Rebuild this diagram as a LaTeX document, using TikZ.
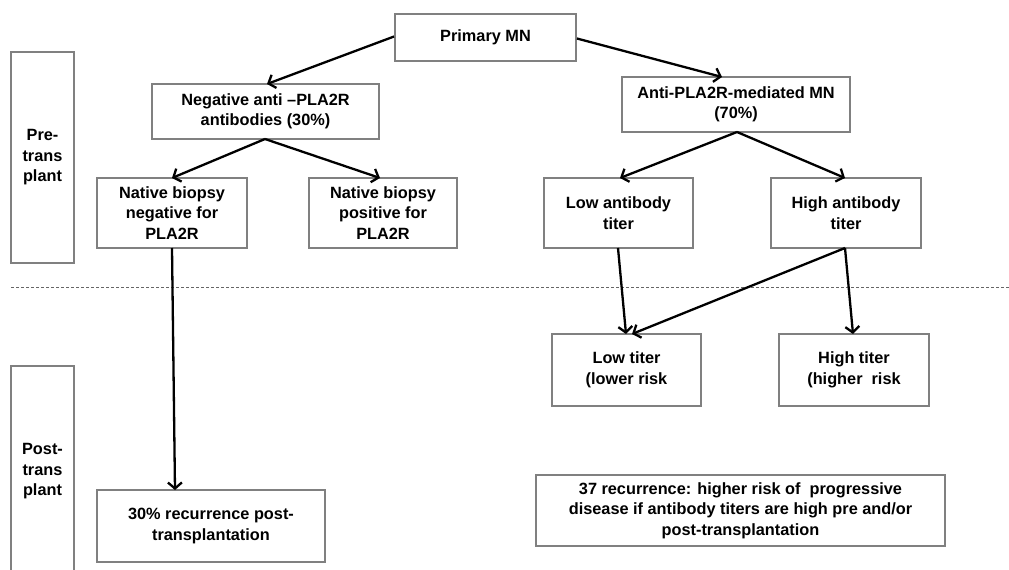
\documentclass[tikz,border=0pt]{standalone}
\usepackage{fontspec}
\setmainfont{Liberation Sans}
\usetikzlibrary{arrows.meta}
\begin{document}
\begin{tikzpicture}[x=1pt,y=-1pt,
  box/.style={draw=black!50, line width=1.9pt, fill=white, align=center, inner sep=0pt,
    font=\fontsize{16.3}{20.5}\selectfont\bfseries},
  arr/.style={line width=2.3pt, -{Straight Barb[length=6pt,width=14pt]}},
  sep/.style={draw=black!60, line width=1pt, dash pattern=on 3pt off 2pt}]
\useasboundingbox (0,0) rectangle (1009,570);
\newcommand{\bx}[6]{\node[box, minimum width=#4-#2, minimum height=#5-#3] (#1) at ({(#2+#4)/2},{(#3+#5)/2}) {#6};}
\draw[sep] (11,287) -- (1009,287);
\bx{pre}{11}{52}{74}{263}{Pre-\\trans\\plant}
\bx{post}{11}{366}{74}{577}{Post-\\trans\\plant}
\bx{pmn}{395}{14}{576}{61}{Primary MN}
\bx{neg}{152}{84}{379}{139}{Negative anti --PLA2R\\antibodies (30\%)}
\bx{anti}{622}{77}{850}{132}{Anti-PLA2R-mediated MN\\(70\%)}
\bx{nbn}{97}{178}{247}{248}{Native biopsy\\negative for\\PLA2R}
\bx{nbp}{309}{178}{457}{248}{Native biopsy\\positive for\\PLA2R}
\bx{lab}{544}{178}{693}{248}{Low antibody\\titer}
\bx{hab}{771}{178}{921}{248}{High antibody\\titer}
\bx{lt}{552}{334}{701}{406}{Low titer\\(lower risk}
\bx{ht}{779}{334}{929}{406}{High titer\\(higher\ \ risk}
\bx{rec}{97}{490}{325}{562}{30\% recurrence post-\\transplantation}
\bx{rec37}{536}{475}{945}{546}{37 recurrence: higher risk of\ \ progressive\\disease if antibody titers are high pre and/or\\post-transplantation}
\draw[arr] (pmn.west) ++(0,-1) -- (267,84);
\draw[arr] (pmn.east) ++(0,1) -- (722,77);
\coordinate (negb) at (265,139);
\draw[arr] (negb) -- (172,178);
\draw[arr] (negb) -- (380,178);
\coordinate (antib) at (737,132);
\draw[arr] (antib) -- (620,178);
\draw[arr] (antib) -- (845,178);
\coordinate (nbnb) at (172,248);
\draw[arr] (nbnb) -- (175,490);
\draw[arr] (618,248) -- (626,334);
\coordinate (habb) at (845,248);
\draw[arr] (habb) -- (632,334);
\draw[arr] (habb) -- (853,334);
\end{tikzpicture}
\end{document}
